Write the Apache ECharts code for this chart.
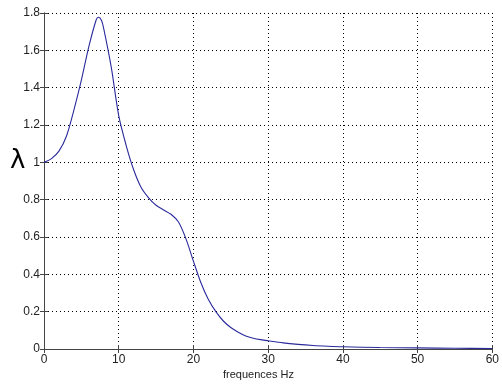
<!DOCTYPE html>
<html><head><meta charset="utf-8">
<script src="https://cdn.jsdelivr.net/npm/echarts@6/dist/echarts.min.js"></script>
<style>html,body{margin:0;padding:0;background:#fff}#c{width:502px;height:390px}</style>
</head><body><div id="c"></div>
<script>
var freq   = [0, 1, 2, 3, 4, 5, 6, 7, 7.3, 7.7, 8, 9, 10, 11, 12, 13, 14, 15, 16, 17, 18, 19, 20, 21, 22, 23, 24, 25, 26, 27, 28, 29, 30, 32, 34, 36, 38, 40, 45, 50, 55, 60];
var lambda = [1.00, 1.02, 1.06, 1.14, 1.28, 1.44, 1.62, 1.765, 1.777, 1.76, 1.715, 1.51, 1.25, 1.09, 0.96, 0.865, 0.81, 0.77, 0.745, 0.722, 0.68, 0.59, 0.47, 0.355, 0.265, 0.20, 0.15, 0.115, 0.09, 0.07, 0.058, 0.05, 0.044, 0.033, 0.025, 0.019, 0.015, 0.012, 0.008, 0.006, 0.004, 0.003];
var xTicks = [0, 10, 20, 30, 40, 50, 60];
var yTicks = [0, 0.2, 0.4, 0.6, 0.8, 1, 1.2, 1.4, 1.6, 1.8];
var xTitle = 'frequences Hz';
var yTitle = 'λ';

var pts = freq.map(function (f, i) { return [f, lambda[i]]; });
var chart = echarts.init(document.getElementById('c'));
var font = 'Liberation Sans, Arial, sans-serif';
var axisCol = '#444';
function xa(pos, labels) {
  return {
    type: 'value', position: pos, min: xTicks[0], max: xTicks[xTicks.length - 1], interval: 10,
    axisLine: { show: true, lineStyle: { color: axisCol, width: 1 } },
    axisTick: { show: true, inside: true, length: 4, lineStyle: { color: axisCol } },
    axisLabel: { show: labels, color: '#222', fontFamily: font, fontSize: 12, margin: 5,
      formatter: function (v) { return String(v); } },
    splitLine: { show: labels, lineStyle: { color: '#000', type: [1, 3], width: 1 } }
  };
}
function ya(pos, labels) {
  return {
    type: 'value', position: pos, min: yTicks[0], max: yTicks[yTicks.length - 1], interval: 0.2,
    axisLine: { show: true, lineStyle: { color: axisCol, width: 1 } },
    axisTick: { show: true, inside: true, length: 4, lineStyle: { color: axisCol } },
    axisLabel: { show: labels, color: '#222', fontFamily: font, fontSize: 12, margin: 4,
      formatter: function (v) { return String(Math.round(v * 10) / 10); } },
    splitLine: { show: labels, lineStyle: { color: '#000', type: [1, 3], width: 1 } }
  };
}
chart.setOption({
  animation: false,
  backgroundColor: '#fff',
  grid: { left: 44, right: 7, top: 13, bottom: 41, containLabel: false },
  xAxis: [xa('bottom', true), xa('top', false)],
  yAxis: [ya('left', true), ya('right', false)],
  series: [{
    type: 'line', data: pts, xAxisIndex: 0, yAxisIndex: 0,
    smooth: 0.3, showSymbol: false,
    lineStyle: { color: '#2a2a9c', width: 1.1 }
  }],
  graphic: [
    { type: 'text', left: 223, top: 369, style: { text: xTitle, font: '11px ' + font, fill: '#222' } },
    { type: 'text', left: 10, top: 148, style: { text: yTitle, font: '26px DejaVu Sans, sans-serif', fill: '#000' } }
  ]
});
</script></body></html>
